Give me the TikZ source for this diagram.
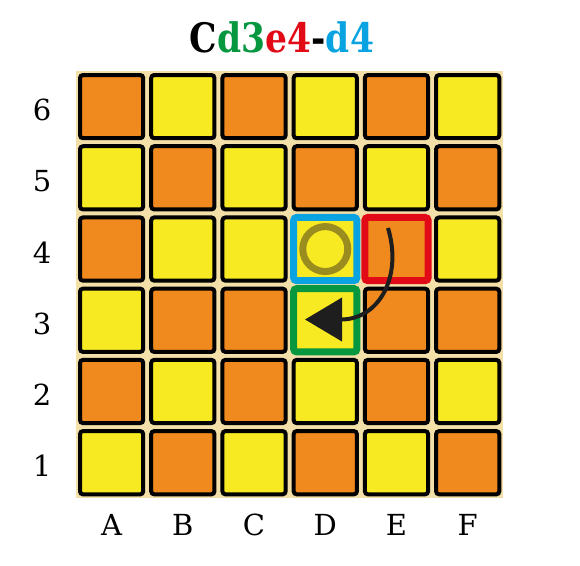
\documentclass[tikz,border=0pt]{standalone}
\usepackage{fontspec}
\setmainfont{DejaVu Serif}
\newfontfamily\titlefont[FakeStretch=0.85]{DejaVu Serif}
\usetikzlibrary{arrows.meta}
\definecolor{cO}{HTML}{F0891E}
\definecolor{cY}{HTML}{F7EA22}
\definecolor{boardbg}{HTML}{F3DFA8}
\definecolor{hBlue}{HTML}{0AA3E2}
\definecolor{hRed}{HTML}{E20A17}
\definecolor{hGreen}{HTML}{07973F}
\definecolor{olive}{HTML}{9B8C20}
\definecolor{arrowcol}{HTML}{1E1E1E}
\begin{document}
\begin{tikzpicture}[x=1pt,y=-1pt,
  cellbox/.style={line width=4pt, rounded corners=3pt, draw=black},
  hlbox/.style={line width=7pt, rounded corners=3pt},
  lbl/.style={font=\fontsize{29}{34}\selectfont, anchor=base, inner sep=0pt},
  movearrow/.style={draw=arrowcol, line width=4pt, -{Triangle[length=37pt,width=43pt]}, arrowcol}]
\def\s{71.22}
\fill[white] (0,0) rectangle (580,565);
\fill[boardbg] (76,71) rectangle (503.3,498.3);
% cells, listed row 6 down to row 1
\foreach \col [count=\n from 0] in {O,Y,O,Y,O,Y, Y,O,Y,O,Y,O, O,Y,Y,Y,O,Y, Y,O,O,Y,O,O, O,Y,O,Y,O,Y, Y,O,Y,O,Y,O} {
  \pgfmathtruncatemacro\i{mod(\n,6)}
  \pgfmathtruncatemacro\j{int(\n/6)}
  \draw[cellbox, fill=c\col] (76+\i*\s+4, 71+\j*\s+4) rectangle ++(\s-8, \s-8);
}
% highlights
\draw[hlbox, draw=hBlue] (76+3*\s+4, 71+2*\s+4) rectangle ++(\s-8, \s-8);
\draw[hlbox, draw=hRed] (76+4*\s+4, 71+2*\s+4) rectangle ++(\s-8, \s-8);
\draw[hlbox, draw=hGreen] (76+3*\s+4, 71+3*\s+4) rectangle ++(\s-8, \s-8);
% piece
\draw[olive, line width=7pt] (76+3.5*\s, 71+2.5*\s) circle (22.5);
% move arrow
\coordinate (as) at (388,228);
\coordinate (ae) at (305,319.5);
\draw[movearrow] (as) .. controls (403,278) and (378,319.5) .. (ae);
% title
\node[anchor=base, inner sep=0pt, font=\titlefont\bfseries\fontsize{40.6}{48}\selectfont] (title) at (282,52)
  {C{\color{hGreen}d3}{\color{hRed}e4}-{\color{hBlue}d4}};
% column labels
\foreach \L [count=\k from 0] in {A,B,C,D,E,F} {
  \node[lbl] (col\L) at (76+\k*\s+0.5*\s, 535) {\L};
}
% row labels
\foreach \R [count=\k from 0] in {6,5,4,3,2,1} {
  \node[lbl] (row\R) at (42, 71+\k*\s+0.5*\s+14) {\R};
}
\end{tikzpicture}
\end{document}
